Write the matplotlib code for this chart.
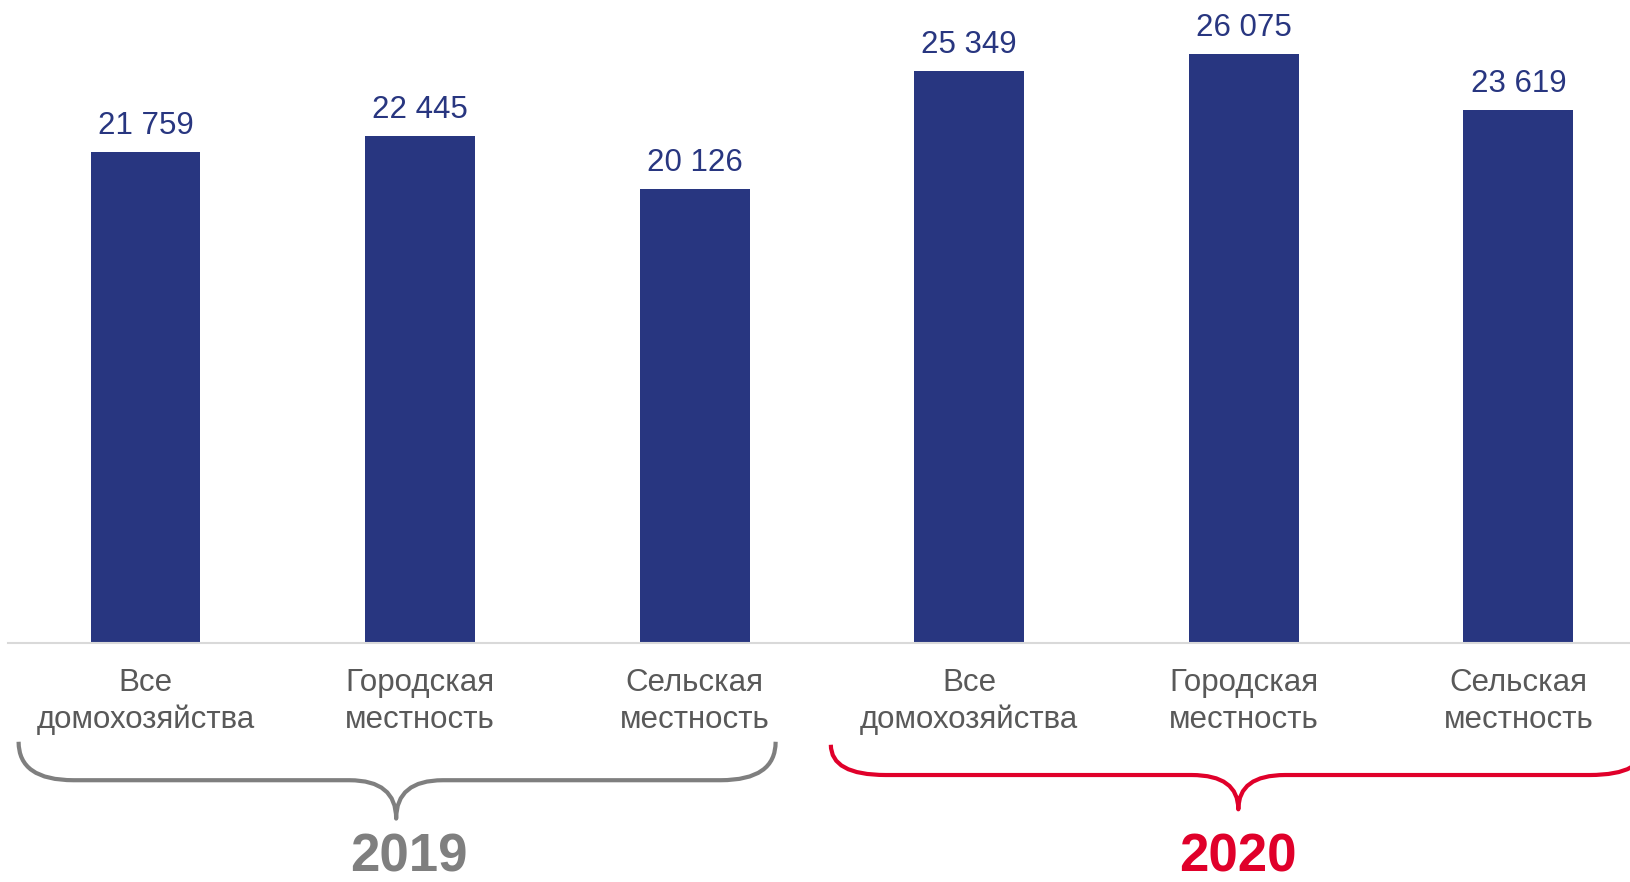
import numpy as np
import matplotlib
matplotlib.use('Agg')
import matplotlib.pyplot as plt
from matplotlib.path import Path
from matplotlib.patches import PathPatch
import matplotlib.transforms as mtransforms

plt.rcParams['font.family'] = ['Liberation Sans', 'DejaVu Sans']

# data
categories = ['Все\nдомохозяйства', 'Городская\nместность', 'Сельская\nместность',
              'Все\nдомохозяйства', 'Городская\nместность', 'Сельская\nместность']
values = [21759, 22445, 20126, 25349, 26075, 23619]
value_labels = ['21 759', '22 445', '20 126', '25 349', '26 075', '23 619']
years = ['2019', '2020']

navy = '#283680'
red = '#e0002a'
gray = '#7f7f7f'

fig = plt.figure(figsize=(16.31, 8.82), dpi=100)
ax = fig.add_axes([0.005, 0.271, 0.995, 0.729])

x = np.arange(len(values))
ax.bar(x, values, width=0.4, color=navy)
ax.set_xlim(-0.5, 5.41)
ax.set_ylim(0, 28480)

for xi, v, lab in zip(x, values, value_labels):
    ax.annotate(lab, (xi, v), xytext=(0, 13), textcoords='offset points',
                ha='center', va='baseline', fontsize=22.5, color=navy)

for s in ['top', 'right', 'left']:
    ax.spines[s].set_visible(False)
ax.spines['bottom'].set_color('#d9d9d9')
ax.spines['bottom'].set_linewidth(1.5)
ax.set_xticks([])
ax.set_yticks([])

trans = mtransforms.blended_transform_factory(ax.transData, fig.transFigure)

for xi, c in zip(x, categories):
    ax.text(xi, 0.243, c, transform=trans, ha='center', va='top',
            fontsize=22.5, color='#595959', linespacing=1.3)


def brace(x0, x1, xc, ytop, yh, yp, color):
    r = 0.2
    rc = 0.17
    verts = [(x0, ytop), (x0, yh), (x0 + r, yh),
             (xc - rc, yh),
             (xc, yh), (xc, yp),
             (xc, yh), (xc + rc, yh),
             (x1 - r, yh),
             (x1, yh), (x1, ytop)]
    codes = [Path.MOVETO, Path.CURVE3, Path.CURVE3,
             Path.LINETO,
             Path.CURVE3, Path.CURVE3,
             Path.CURVE3, Path.CURVE3,
             Path.LINETO,
             Path.CURVE3, Path.CURVE3]
    patch = PathPatch(Path(verts, codes), transform=trans, fill=False,
                      edgecolor=color, linewidth=3, clip_on=False,
                      capstyle='butt', joinstyle='round')
    fig.add_artist(patch)


brace(-0.462, 2.295, 0.913, 0.159, 0.1154, 0.0719, gray)
brace(2.496, 5.46, 3.98, 0.1556, 0.1213, 0.0824, red)

ax.text(0.958, 0.012, years[0], transform=trans, ha='center', va='baseline',
        fontsize=38, fontweight='bold', color=gray)
ax.text(3.98, 0.012, years[1], transform=trans, ha='center', va='baseline',
        fontsize=38, fontweight='bold', color=red)

fig.savefig('out.png', dpi=100)
